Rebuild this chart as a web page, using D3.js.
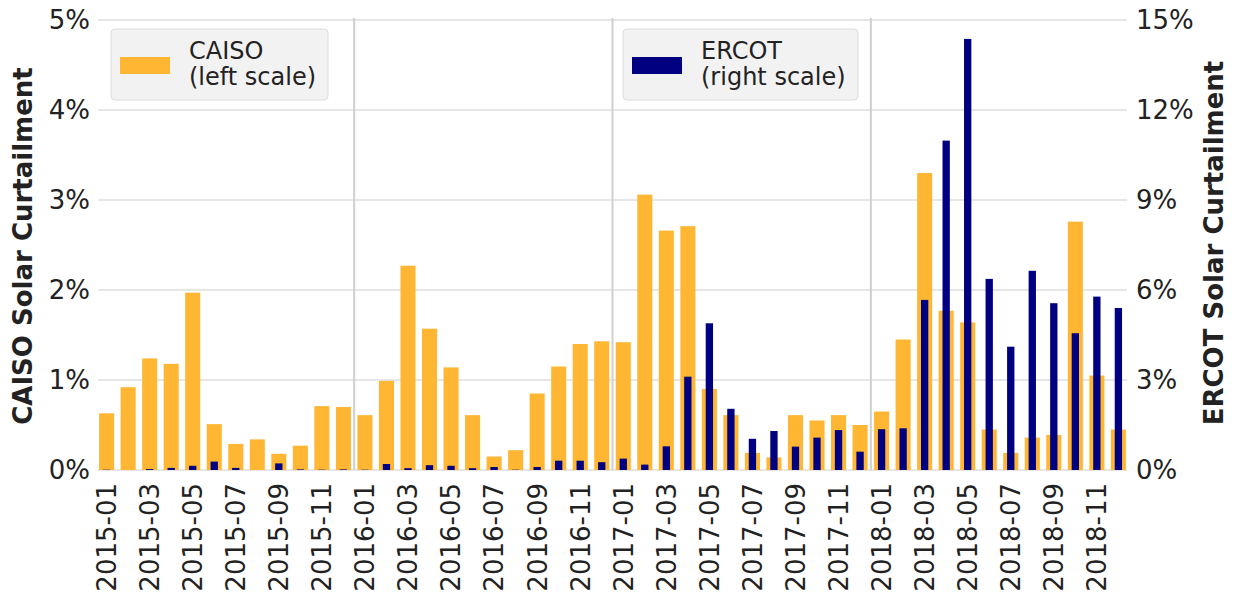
<!DOCTYPE html>
<html>
<head>
<meta charset="utf-8">
<script src="https://cdn.jsdelivr.net/npm/d3@7"></script>
<style>
  body { margin: 0; background: #fff; }
  text { font-family: 'DejaVu Sans', sans-serif; fill: #222; }
</style>
</head>
<body>
<div id="chart"></div>
<script>
var months = [
  '2015-01', '2015-02', '2015-03', '2015-04', '2015-05', '2015-06', '2015-07', '2015-08', '2015-09', '2015-10', '2015-11', '2015-12',
  '2016-01', '2016-02', '2016-03', '2016-04', '2016-05', '2016-06', '2016-07', '2016-08', '2016-09', '2016-10', '2016-11', '2016-12',
  '2017-01', '2017-02', '2017-03', '2017-04', '2017-05', '2017-06', '2017-07', '2017-08', '2017-09', '2017-10', '2017-11', '2017-12',
  '2018-01', '2018-02', '2018-03', '2018-04', '2018-05', '2018-06', '2018-07', '2018-08', '2018-09', '2018-10', '2018-11', '2018-12'
]

// percent curtailed, CAISO on the left axis
var caiso = [
  0.63, 0.92, 1.24, 1.18, 1.97, 0.51, 0.29, 0.34, 0.18, 0.27, 0.71, 0.70,
  0.61, 0.99, 2.27, 1.57, 1.14, 0.61, 0.15, 0.22, 0.85, 1.15, 1.40, 1.43,
  1.42, 3.06, 2.66, 2.71, 0.90, 0.61, 0.19, 0.14, 0.61, 0.55, 0.61, 0.50,
  0.65, 1.45, 3.30, 1.77, 1.64, 0.45, 0.19, 0.36, 0.39, 2.76, 1.05, 0.45
]

// percent curtailed, ERCOT on the right axis
var ercot = [
  0.01, 0.00, 0.03, 0.07, 0.14, 0.28, 0.07, 0.00, 0.22, 0.02, 0.01, 0.02,
  0.01, 0.20, 0.06, 0.16, 0.14, 0.06, 0.10, 0.01, 0.10, 0.31, 0.31, 0.26,
  0.38, 0.18, 0.79, 3.11, 4.89, 2.04, 1.04, 1.30, 0.78, 1.08, 1.33, 0.61,
  1.36, 1.39, 5.67, 10.98, 14.37, 6.37, 4.11, 6.64, 5.56, 4.56, 5.78, 5.40
]

var leftTicks = [0, 1, 2, 3, 4, 5]
var rightTicks = [0, 3, 6, 9, 12, 15]
var yearBreaks = [11.5, 23.5, 35.5]

var width = 1235
var height = 596
var plot = { left: 98, right: 1127, top: 20, bottom: 470 }

var svg = d3
  .select('#chart')
  .append('svg')
  .attr('width', width)
  .attr('height', height)

var x = d3.scaleLinear().domain([-0.4, 47.4]).range([plot.left, plot.right])
var yLeft = d3.scaleLinear().domain([0, 5]).range([plot.bottom, plot.top])
var yRight = d3.scaleLinear().domain([0, 15]).range([plot.bottom, plot.top])
var step = x(1) - x(0)

// horizontal grid
svg
  .append('g')
  .selectAll('line')
  .data(leftTicks)
  .enter()
  .append('line')
  .attr('x1', plot.left)
  .attr('x2', plot.right)
  .attr('y1', d => yLeft(d))
  .attr('y2', d => yLeft(d))
  .attr('stroke', '#dedede')
  .attr('stroke-width', 1.5)

// year separators
svg
  .append('g')
  .selectAll('line')
  .data(yearBreaks)
  .enter()
  .append('line')
  .attr('x1', d => x(d))
  .attr('x2', d => x(d))
  .attr('y1', plot.top - 2)
  .attr('y2', plot.bottom)
  .attr('stroke', '#cfcfcf')
  .attr('stroke-width', 2)

// CAISO bars
svg
  .append('g')
  .selectAll('rect')
  .data(caiso)
  .enter()
  .append('rect')
  .attr('x', (d, i) => x(i) - step * 0.35)
  .attr('width', step * 0.7)
  .attr('y', d => yLeft(d))
  .attr('height', d => yLeft(0) - yLeft(d))
  .attr('fill', '#ffb733')

// ERCOT bars
svg
  .append('g')
  .selectAll('rect')
  .data(ercot)
  .enter()
  .append('rect')
  .attr('x', (d, i) => x(i) - step * 0.17)
  .attr('width', step * 0.34)
  .attr('y', d => yRight(d))
  .attr('height', d => yRight(0) - yRight(d))
  .attr('fill', '#000080')

// left axis labels
svg
  .append('g')
  .selectAll('text')
  .data(leftTicks)
  .enter()
  .append('text')
  .attr('x', 90)
  .attr('y', d => yLeft(d))
  .attr('dy', '0.36em')
  .attr('text-anchor', 'end')
  .style('font-size', '26px')
  .text(d => d + '%')

// right axis labels
svg
  .append('g')
  .selectAll('text')
  .data(rightTicks)
  .enter()
  .append('text')
  .attr('x', 1136)
  .attr('y', d => yRight(d))
  .attr('dy', '0.36em')
  .attr('text-anchor', 'start')
  .style('font-size', '26px')
  .text(d => d + '%')

// month labels, every other one
svg
  .append('g')
  .selectAll('text')
  .data(months.filter((m, i) => i % 2 === 0))
  .enter()
  .append('text')
  .attr('transform', d => 'translate(' + x(months.indexOf(d)) + ',483) rotate(-90)')
  .attr('dy', '0.36em')
  .attr('text-anchor', 'end')
  .style('font-size', '26px')
  .text(d => d)

// axis titles
svg
  .append('text')
  .attr('transform', 'translate(23,246) rotate(-90)')
  .attr('dy', '0.36em')
  .attr('text-anchor', 'middle')
  .style('font-size', '26px')
  .style('font-weight', 'bold')
  .text('CAISO Solar Curtailment')

svg
  .append('text')
  .attr('transform', 'translate(1214,243) rotate(-90)')
  .attr('dy', '0.36em')
  .attr('text-anchor', 'middle')
  .style('font-size', '26px')
  .style('font-weight', 'bold')
  .text('ERCOT Solar Curtailment')

// legends
var legends = [
  { x: 111, w: 217, color: '#ffb733', name: 'CAISO', note: '(left scale)' },
  { x: 623, w: 235, color: '#000080', name: 'ERCOT', note: '(right scale)' }
]

var legend = svg
  .selectAll('.legend')
  .data(legends)
  .enter()
  .append('g')
  .attr('class', 'legend')
  .attr('transform', d => 'translate(' + d.x + ',29)')

legend
  .append('rect')
  .attr('width', d => d.w)
  .attr('height', 71)
  .attr('rx', 4)
  .attr('fill', '#f2f2f2')
  .attr('stroke', '#dcdcdc')

legend
  .append('rect')
  .attr('x', 9)
  .attr('y', 28)
  .attr('width', 50)
  .attr('height', 17)
  .attr('fill', d => d.color)

legend
  .append('text')
  .attr('x', 78)
  .attr('y', 30)
  .style('font-size', '24px')
  .text(d => d.name)

legend
  .append('text')
  .attr('x', 78)
  .attr('y', 56)
  .style('font-size', '24px')
  .text(d => d.note)
</script>
</body>
</html>
